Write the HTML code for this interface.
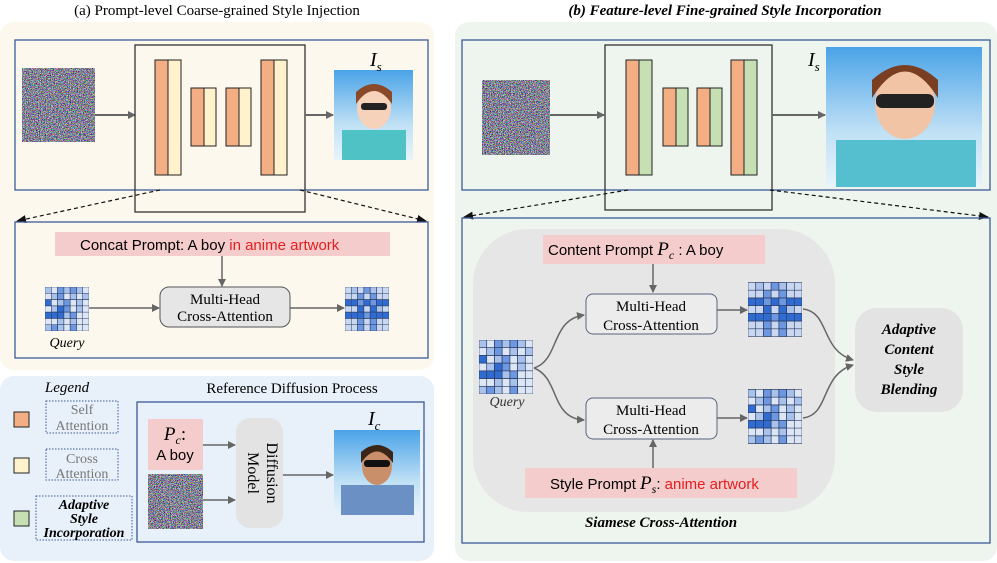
<!DOCTYPE html>
<html><head><meta charset="utf-8"><style>
body{margin:0;background:#fff}
svg{display:block}
text{font-family:"Liberation Serif",serif}
.s{font-family:"Liberation Sans",sans-serif}
</style></head><body>
<svg width="997" height="563" viewBox="0 0 997 563" xmlns="http://www.w3.org/2000/svg">
<defs>
<filter id="nz" x="0" y="0" width="100%" height="100%"><feTurbulence type="fractalNoise" baseFrequency="1.4" numOctaves="1" seed="3"/><feColorMatrix type="matrix" values="4 0 0 0 -1.7  0 4 0 0 -1.7  0 0 4 0 -1.6  0 0 0 0 1"/></filter>
<marker id="ah" markerWidth="8" markerHeight="8" refX="7" refY="4" orient="auto" markerUnits="userSpaceOnUse"><path d="M0,0 L8,4 L0,8 z" fill="#666"/></marker>
<marker id="ak" markerWidth="10" markerHeight="8" refX="9" refY="4" orient="auto" markerUnits="userSpaceOnUse"><path d="M0,0 L10,4 L0,8 z" fill="#111"/></marker>
<linearGradient id="sky" x1="0" y1="0" x2="0" y2="1"><stop offset="0" stop-color="#4aa3e8"/><stop offset="0.6" stop-color="#bfe0f5"/><stop offset="1" stop-color="#e8f4fb"/></linearGradient>
<symbol id="g" viewBox="0 0 7 7">
<g stroke="#2d3f66" stroke-width="0.08">
<rect x="0" y="0" width="7" height="7" fill="#dde6f5"/>
<rect x="0" y="0" width="1" height="1" fill="#a9c2ec"/><rect x="2" y="0" width="1" height="1" fill="#6d97e0"/><rect x="3" y="0" width="1" height="1" fill="#a9c2ec"/><rect x="4" y="0" width="1" height="1" fill="#6d97e0"/><rect x="5" y="0" width="1" height="1" fill="#a9c2ec"/>
<rect x="1" y="1" width="1" height="1" fill="#a9c2ec"/><rect x="2" y="1" width="1" height="1" fill="#6d97e0"/><rect x="4" y="1" width="1" height="1" fill="#a9c2ec"/><rect x="6" y="1" width="1" height="1" fill="#a9c2ec"/>
<rect x="0" y="2" width="1" height="1" fill="#2f6bd1"/><rect x="2" y="2" width="1" height="1" fill="#a9c2ec"/><rect x="3" y="2" width="1" height="1" fill="#6d97e0"/><rect x="5" y="2" width="1" height="1" fill="#a9c2ec"/>
<rect x="1" y="3" width="1" height="1" fill="#a9c2ec"/><rect x="2" y="3" width="1" height="1" fill="#2f6bd1"/><rect x="3" y="3" width="1" height="1" fill="#6d97e0"/><rect x="5" y="3" width="1" height="1" fill="#a9c2ec"/>
<rect x="0" y="4" width="1" height="1" fill="#2f6bd1"/><rect x="1" y="4" width="1" height="1" fill="#2f6bd1"/><rect x="2" y="4" width="1" height="1" fill="#2f6bd1"/><rect x="3" y="4" width="1" height="1" fill="#a9c2ec"/><rect x="4" y="4" width="1" height="1" fill="#6d97e0"/>
<rect x="2" y="5" width="1" height="1" fill="#a9c2ec"/><rect x="4" y="5" width="1" height="1" fill="#a9c2ec"/>
<rect x="0" y="6" width="1" height="1" fill="#a9c2ec"/><rect x="1" y="6" width="1" height="1" fill="#6d97e0"/><rect x="2" y="6" width="1" height="1" fill="#a9c2ec"/><rect x="4" y="6" width="1" height="1" fill="#6d97e0"/>
<path d="M1 0V7M2 0V7M3 0V7M4 0V7M5 0V7M6 0V7M0 1H7M0 2H7M0 3H7M0 4H7M0 5H7M0 6H7" fill="none"/>
</g></symbol>
<symbol id="g2" viewBox="0 0 7 7">
<g stroke="#2d3f66" stroke-width="0.08">
<rect x="0" y="0" width="7" height="7" fill="#c9d7f1"/>
<rect x="1" y="0" width="1" height="1" fill="#a9c2ec"/><rect x="3" y="0" width="1" height="1" fill="#6d97e0"/><rect x="4" y="0" width="1" height="1" fill="#a9c2ec"/>
<rect x="2" y="1" width="1" height="1" fill="#6d97e0"/><rect x="4" y="1" width="1" height="1" fill="#6d97e0"/>
<rect x="0" y="2" width="7" height="1" fill="#2f6bd1"/><rect x="2" y="2" width="1" height="1" fill="#6d97e0"/><rect x="4" y="2" width="1" height="1" fill="#6d97e0"/>
<rect x="2" y="3" width="1" height="1" fill="#2f6bd1"/><rect x="4" y="3" width="1" height="1" fill="#2f6bd1"/><rect x="5" y="3" width="1" height="1" fill="#a9c2ec"/>
<rect x="0" y="4" width="7" height="1" fill="#2f6bd1"/><rect x="3" y="4" width="1" height="1" fill="#6d97e0"/>
<rect x="2" y="5" width="1" height="1" fill="#6d97e0"/><rect x="4" y="5" width="1" height="1" fill="#6d97e0"/>
<rect x="2" y="6" width="1" height="1" fill="#6d97e0"/><rect x="4" y="6" width="1" height="1" fill="#6d97e0"/>
<path d="M1 0V7M2 0V7M3 0V7M4 0V7M5 0V7M6 0V7M0 1H7M0 2H7M0 3H7M0 4H7M0 5H7M0 6H7" fill="none"/>
</g></symbol>
</defs>

<text x="217" y="15" font-size="15" text-anchor="middle">(a) Prompt-level Coarse-grained Style Injection</text>
<text x="725" y="15" font-size="15" text-anchor="middle" font-style="italic" font-weight="bold">(b) Feature-level Fine-grained Style Incorporation</text>

<rect x="0" y="22" width="434" height="348" rx="14" fill="#fcf8ee"/>
<rect x="15" y="40" width="413" height="150" fill="none" stroke="#3d5a99" stroke-width="1.3"/>
<rect x="22" y="68" width="73" height="74" filter="url(#nz)"/>
<line x1="95" y1="115" x2="135" y2="115" stroke="#666" stroke-width="2" marker-end="url(#ah)"/>
<rect x="135" y="45" width="170" height="167" fill="none" stroke="#333" stroke-width="1.3"/>
<g stroke="#222" stroke-width="1">
<rect x="155" y="60" width="13" height="115" fill="#f4ae84"/><rect x="168" y="60" width="13" height="115" fill="#fff2cc"/>
<rect x="191" y="88" width="13" height="58" fill="#f4ae84"/><rect x="204" y="88" width="12" height="58" fill="#fff2cc"/>
<rect x="226" y="88" width="13" height="58" fill="#f4ae84"/><rect x="239" y="88" width="12" height="58" fill="#fff2cc"/>
<rect x="261" y="60" width="13" height="115" fill="#f4ae84"/><rect x="274" y="60" width="13" height="115" fill="#fff2cc"/>
</g>
<line x1="305" y1="115" x2="333" y2="115" stroke="#666" stroke-width="2" marker-end="url(#ah)"/>
<rect x="334" y="70" width="79" height="90" fill="url(#sky)"/>
<rect x="342" y="130" width="64" height="30" fill="#4fc2c6"/><ellipse cx="374" cy="108" rx="17" ry="21" fill="#f6d2bb"/><path d="M356 104 Q374 78 392 104 L392 92 Q374 76 356 92z" fill="#8a4a2a"/><rect x="361" y="103" width="26" height="7" rx="3" fill="#222"/>
<text x="370" y="66" font-size="20" font-style="italic">I<tspan font-size="13" dy="5">s</tspan></text>
<line x1="160" y1="190" x2="17" y2="221" stroke="#111" stroke-width="1.2" stroke-dasharray="4,3" marker-end="url(#ak)"/>
<line x1="300" y1="190" x2="426" y2="221" stroke="#111" stroke-width="1.2" stroke-dasharray="4,3" marker-end="url(#ak)"/>
<rect x="15" y="222" width="413" height="136" fill="none" stroke="#3d5a99" stroke-width="1.3"/>
<rect x="55" y="232" width="335" height="24" fill="#f5cccc"/>
<text class="s" x="80" y="250" font-size="15">Concat Prompt: A boy <tspan fill="#e41e1e">in anime artwork</tspan></text>
<line x1="222" y1="256" x2="222" y2="286" stroke="#666" stroke-width="1.5" marker-end="url(#ah)"/>
<rect x="160" y="287" width="130" height="40" rx="9" fill="#e6e6e6" stroke="#555" stroke-width="1"/>
<text x="225" y="304" font-size="15" text-anchor="middle">Multi-Head</text>
<text x="225" y="321" font-size="15" text-anchor="middle">Cross-Attention</text>
<use href="#g" x="45" y="287" width="44" height="44"/>
<use href="#g2" x="345" y="287" width="44" height="44"/>
<line x1="89" y1="308" x2="159" y2="308" stroke="#666" stroke-width="1.5" marker-end="url(#ah)"/>
<line x1="290" y1="308" x2="344" y2="308" stroke="#666" stroke-width="1.5" marker-end="url(#ah)"/>
<text x="67" y="347" font-size="14" font-style="italic" text-anchor="middle">Query</text>

<rect x="0" y="376" width="434" height="185" rx="14" fill="#e8f1fa"/>
<text x="67" y="392" font-size="15" font-style="italic" text-anchor="middle">Legend</text>
<rect x="14" y="412" width="15" height="15" fill="#f4ae84" stroke="#222"/>
<rect x="14" y="458" width="15" height="15" fill="#fff2cc" stroke="#222"/>
<rect x="14" y="511" width="15" height="15" fill="#c6e0b4" stroke="#222"/>
<g fill="none" stroke="#3d5a99" stroke-dasharray="1.5,1.5"><rect x="46" y="401" width="72" height="32"/><rect x="46" y="449" width="72" height="31"/><rect x="36" y="496" width="96" height="44"/></g>
<g font-size="14" fill="#777" text-anchor="middle"><text x="82" y="414">Self</text><text x="82" y="430">Attention</text><text x="82" y="463">Cross</text><text x="82" y="478">Attention</text></g>
<g font-size="14" font-weight="bold" font-style="italic" text-anchor="middle"><text x="84" y="509">Adaptive</text><text x="84" y="523">Style</text><text x="84" y="537">Incorporation</text></g>
<text x="292" y="393" font-size="15" text-anchor="middle">Reference Diffusion Process</text>
<rect x="137" y="402" width="287" height="140" fill="none" stroke="#3d5a99" stroke-width="1.3"/>
<rect x="148" y="419" width="55" height="51" fill="#f5cccc"/>
<text x="175" y="440" font-size="19" font-style="italic" text-anchor="middle">P<tspan font-size="12" dy="4">c</tspan><tspan dy="-4" font-style="normal">:</tspan></text>
<text class="s" x="175" y="460" font-size="15" text-anchor="middle">A boy</text>
<rect x="148" y="474" width="55" height="55" filter="url(#nz)"/>
<line x1="203" y1="445" x2="235" y2="445" stroke="#666" stroke-width="1.5" marker-end="url(#ah)"/>
<line x1="203" y1="500" x2="235" y2="500" stroke="#666" stroke-width="1.5" marker-end="url(#ah)"/>
<rect x="236" y="418" width="47" height="110" rx="14" fill="#e3e3e3"/>
<text transform="translate(260,473) rotate(90)" font-size="16" text-anchor="middle" x="0" y="-7">Diffusion</text>
<text transform="translate(260,473) rotate(90)" font-size="16" text-anchor="middle" x="0" y="12">Model</text>
<line x1="283" y1="475" x2="333" y2="475" stroke="#666" stroke-width="1.5" marker-end="url(#ah)"/>
<rect x="334" y="430" width="86" height="85" fill="url(#sky)"/>
<rect x="341" y="485" width="73" height="30" fill="#6a90c4"/><ellipse cx="377" cy="466" rx="15" ry="19" fill="#c98e6a"/><path d="M361 463 Q377 440 393 463 L393 452 Q377 438 361 452z" fill="#3b2516"/><rect x="364" y="460" width="26" height="7" rx="3" fill="#111"/>
<text x="368" y="425" font-size="20" font-style="italic">I<tspan font-size="13" dy="5">c</tspan></text>

<rect x="455" y="22" width="542" height="539" rx="14" fill="#eef5ee"/>
<rect x="462" y="40" width="528" height="150" fill="none" stroke="#3d5a99" stroke-width="1.3"/>
<rect x="482" y="80" width="68" height="75" filter="url(#nz)"/>
<line x1="550" y1="115" x2="604" y2="115" stroke="#666" stroke-width="2" marker-end="url(#ah)"/>
<rect x="605" y="45" width="167" height="165" fill="none" stroke="#333" stroke-width="1.3"/>
<g stroke="#222" stroke-width="1">
<rect x="626" y="60" width="13" height="115" fill="#f4ae84"/><rect x="639" y="60" width="13" height="115" fill="#c6e0b4"/>
<rect x="663" y="88" width="13" height="58" fill="#f4ae84"/><rect x="676" y="88" width="12" height="58" fill="#c6e0b4"/>
<rect x="697" y="88" width="13" height="58" fill="#f4ae84"/><rect x="710" y="88" width="12" height="58" fill="#c6e0b4"/>
<rect x="731" y="60" width="13" height="115" fill="#f4ae84"/><rect x="744" y="60" width="13" height="115" fill="#c6e0b4"/>
</g>
<line x1="772" y1="115" x2="825" y2="115" stroke="#666" stroke-width="2" marker-end="url(#ah)"/>
<rect x="826" y="47" width="156" height="140" fill="url(#sky)"/>
<rect x="836" y="140" width="140" height="47" fill="#55bfd0"/><ellipse cx="905" cy="103" rx="30" ry="36" fill="#f2c4a6"/><path d="M872 98 Q905 45 938 98 L938 80 Q905 50 872 80z" fill="#7a3f22"/><rect x="876" y="94" width="58" height="14" rx="6" fill="#222"/>
<text x="808" y="66" font-size="20" font-style="italic">I<tspan font-size="13" dy="5">s</tspan></text>
<line x1="628" y1="190" x2="464" y2="217" stroke="#111" stroke-width="1.2" stroke-dasharray="4,3" marker-end="url(#ak)"/>
<line x1="770" y1="190" x2="988" y2="217" stroke="#111" stroke-width="1.2" stroke-dasharray="4,3" marker-end="url(#ak)"/>
<rect x="462" y="218" width="528" height="325" fill="none" stroke="#3d5a99" stroke-width="1.3"/>
<rect x="473" y="229" width="362" height="283" rx="55" fill="#e6e6e6"/>
<rect x="543" y="235" width="222" height="29" fill="#f5cccc"/>
<text class="s" x="548" y="255" font-size="15">Content Prompt <tspan font-family="Liberation Serif" font-style="italic" font-size="19">P<tspan font-size="12" dy="4">c</tspan></tspan><tspan dy="-4"> : A boy</tspan></text>
<line x1="653" y1="264" x2="653" y2="292" stroke="#666" stroke-width="1.5" marker-end="url(#ah)"/>
<rect x="586" y="294" width="131" height="40" rx="7" fill="#ececec" stroke="#56637f" stroke-width="1"/>
<text x="651" y="311" font-size="15" text-anchor="middle">Multi-Head</text>
<text x="651" y="330" font-size="15" text-anchor="middle">Cross-Attention</text>
<rect x="586" y="398" width="131" height="41" rx="7" fill="#ececec" stroke="#56637f" stroke-width="1"/>
<text x="651" y="415" font-size="15" text-anchor="middle">Multi-Head</text>
<text x="651" y="434" font-size="15" text-anchor="middle">Cross-Attention</text>
<use href="#g" x="479" y="340" width="54" height="54"/>
<use href="#g2" x="748" y="282" width="54" height="55"/>
<use href="#g" x="748" y="389" width="54" height="55"/>
<text x="507" y="406" font-size="14" font-style="italic" text-anchor="middle" fill="#333">Query</text>
<path d="M534 368 C560 360 550 320 584 315" fill="none" stroke="#666" stroke-width="1.5" marker-end="url(#ah)"/>
<path d="M534 368 C560 378 550 418 584 420" fill="none" stroke="#666" stroke-width="1.5" marker-end="url(#ah)"/>
<line x1="717" y1="310" x2="747" y2="310" stroke="#666" stroke-width="1.5" marker-end="url(#ah)"/>
<line x1="717" y1="418" x2="747" y2="418" stroke="#666" stroke-width="1.5" marker-end="url(#ah)"/>
<path d="M803 309 C830 312 820 350 853 360" fill="none" stroke="#666" stroke-width="1.5" marker-end="url(#ah)"/>
<path d="M803 418 C830 415 820 375 853 365" fill="none" stroke="#666" stroke-width="1.5" marker-end="url(#ah)"/>
<line x1="653" y1="468" x2="653" y2="440" stroke="#666" stroke-width="1.5" marker-end="url(#ah)"/>
<rect x="525" y="468" width="272" height="30" fill="#f5cccc"/>
<text class="s" x="550" y="489" font-size="15">Style Prompt <tspan font-family="Liberation Serif" font-style="italic" font-size="19">P<tspan font-size="12" dy="4">s</tspan></tspan><tspan dy="-4">: </tspan><tspan fill="#e41e1e">anime artwork</tspan></text>
<rect x="855" y="308" width="108" height="104" rx="22" fill="#e3e3e3"/>
<g font-size="15" font-weight="bold" font-style="italic" text-anchor="middle"><text x="909" y="334">Adaptive</text><text x="909" y="354">Content</text><text x="909" y="374">Style</text><text x="909" y="394">Blending</text></g>
<text x="661" y="527" font-size="15" font-weight="bold" font-style="italic" text-anchor="middle">Siamese Cross-Attention</text>
</svg>
</body></html>
